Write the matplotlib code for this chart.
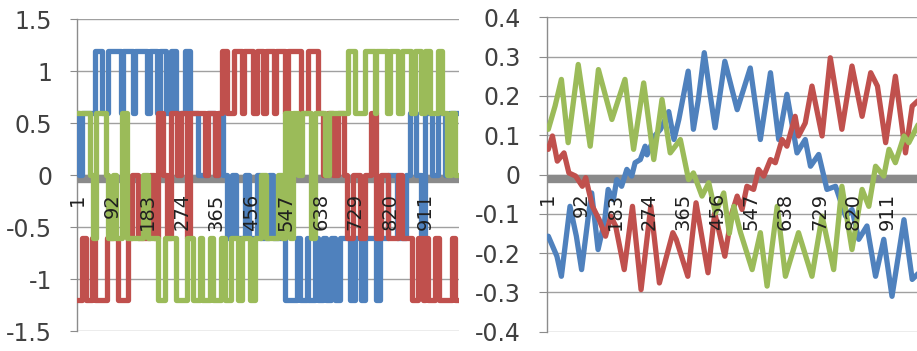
import numpy as np
import matplotlib.pyplot as plt
from matplotlib.transforms import ScaledTranslation

# colours of the three phases (excel defaults)
BLUE = '#4F81BD'
RED = '#C0504D'
GREEN = '#9BBB59'

# x axis category labels (every 91 samples)
x_ticks = [1, 92, 183, 274, 365, 456, 547, 638, 729, 820, 911]
n_samples = 1000

# left chart: phase voltages, switch sample -> level
blue_sw = [1, 4, 14, 48, 66, 81, 116, 121, 147, 151, 182, 190, 208, 217, 234, 247, 260, 282, 295, 318,
           340, 362, 372, 382, 392, 405, 415, 440, 450, 470, 480, 503, 514, 544, 575, 583, 601, 605, 623, 631,
           645, 653, 666, 675, 688, 714, 727, 745, 754, 784, 793, 815, 838, 862, 872, 888, 902, 912, 930, 945,
           965, 975]
blue_lv = [0.6, 0, 0.6, 1.2, 0.6, 1.2, 0.6, 1.2, 0.6, 1.2, 0.6, 1.2, 0.6, 1.2, 0.6, 1.2, 0.6, 1.2, 0.6, 0,
           0.6, 0, 0.6, 0, -0.6, 0, -0.6, 0, -0.6, 0, -0.6, 0, -0.6, -1.2, -0.6, -1.2, -0.6, -1.2, -0.6, -1.2,
           -0.6, -1.2, -0.6, -1.2, -0.6, -1.2, -0.6, -1.2, -0.6, -1.2, -0.6, 0, -0.6, 0, 0.6, 0, -0.6, 0.6, 0, 0.6,
           0, 0.6]

red_sw = [1, 12, 22, 38, 46, 77, 107, 134, 145, 160, 192, 202, 212, 225, 235, 245, 262, 272, 288, 296,
          335, 343, 362, 370, 379, 394, 412, 432, 437, 462, 470, 488, 494, 516, 522, 544, 553, 586, 604, 631,
          645, 658, 671, 684, 700, 708, 722, 740, 754, 771, 782, 797, 814, 840, 850, 877, 893, 905, 912, 920,
          938, 948, 982, 990]
red_lv = [-1.2, -0.6, -1.2, -0.6, -1.2, -0.6, -1.2, -0.6, 0, -0.6, 0, -0.6, 0.6, 0, -0.6, 0.6, 0, 0.6, -0.6, 0.6,
          0, 0.6, 0, 0.6, 1.2, 0.6, 1.2, 0.6, 1.2, 0.6, 1.2, 0.6, 1.2, 0.6, 1.2, 0.6, 1.2, 0.6, 1.2, 0.6,
          0, 0.6, 0, 0.6, 0, -0.6, 0, -0.6, 0, 0.6, -0.6, 0, -0.6, 0, -0.6, -1.2, -0.6, -1.2, -0.6, -1.2,
          -0.6, -1.2, -0.6, -1.2]

green_sw = [1, 35, 42, 50, 75, 82, 95, 102, 117, 130, 172, 185, 212, 230, 260, 287, 304, 321, 326, 348,
            356, 378, 387, 404, 422, 431, 452, 465, 482, 495, 526, 536, 544, 557, 566, 579, 590, 614, 624, 650,
            660, 709, 728, 754, 780, 784, 811, 819, 841, 850, 876, 885, 902, 911, 924, 946, 955, 968, 980, 990]
green_lv = [0.6, 0, -0.6, 0.6, 0, -0.6, 0, -0.6, 0.6, -0.6, 0, -0.6, -1.2, -0.6, -1.2, -0.6, -1.2, -0.6, -1.2, -0.6,
            -1.2, -0.6, -1.2, -0.6, -1.2, -0.6, -1.2, -0.6, 0, -0.6, 0, -0.6, 0.6, -0.6, 0.6, 0, 0.6, -0.6, 0.6, 0,
            0.6, 1.2, 0.6, 1.2, 0.6, 1.2, 0.6, 1.2, 0.6, 1.2, 0.6, 1.2, 0.6, 1.2, 0.6, 1.2, 0.6, 0, 0.6, 0]

left_yticks = [-1.5, -1, -0.5, 0, 0.5, 1, 1.5]
left_ylabels = ['-1.5', '-1', '-0.5', '0', '0.5', '1', '1.5']

# right chart: phase currents (sample, value)
blue_ix = [4, 27, 39, 62, 79, 93, 111, 120, 137, 155, 164, 178, 187, 200, 214, 227, 236, 250, 263, 268,
           290, 304, 326, 340, 353, 378, 392, 405, 421, 436, 450, 476, 509, 544, 571, 598, 620, 642, 669, 691,
           705, 727, 749, 772, 799, 816, 834, 856, 879, 901, 923, 955, 977, 995]
blue_i = [-0.157, -0.208, -0.259, -0.081, -0.157, -0.242, -0.106, -0.047, -0.191, -0.115,
          -0.038, -0.064, -0.013, -0.03, 0.013, -0.004, 0.03, 0.038, 0.072, 0.05,
          0.10, 0.115, 0.16, 0.089, 0.14, 0.263, 0.115, 0.19, 0.31, 0.208,
          0.119, 0.288, 0.165, 0.271, 0.089, 0.259, 0.089, 0.204, 0.055, 0.089,
          0.021, 0.051, -0.038, -0.03, -0.106, -0.089, -0.165, -0.131, -0.259, -0.165,
          -0.31, -0.115, -0.267, -0.25]

red_ix = [4, 15, 28, 46, 59, 77, 95, 104, 122, 140, 157, 171, 184, 207, 229, 252, 278, 301, 337, 346,
          377, 399, 431, 449, 476, 495, 509, 522, 535, 553, 566, 580, 598, 611, 629, 642, 664, 673, 691, 709,
          736, 758, 789, 816, 843, 866, 884, 906, 932, 959, 977, 995]
red_i = [0.064, 0.098, 0.034, 0.055, 0.004, -0.004, -0.03, -0.008, -0.081, -0.115,
         -0.157, -0.106, -0.131, -0.242, -0.081, -0.293, -0.081, -0.276, -0.148, -0.165,
         -0.259, -0.072, -0.25, -0.098, -0.208, -0.098, -0.055, -0.089, -0.03, -0.038,
         0.013, -0.004, 0.038, 0.03, 0.089, 0.072, 0.148, 0.098, 0.131, 0.225,
         0.098, 0.297, 0.115, 0.276, 0.148, 0.259, 0.225, 0.081, 0.25, 0.055,
         0.174, 0.19]

green_ix = [4, 22, 39, 57, 84, 116, 138, 174, 209, 232, 259, 286, 308, 330, 357, 379, 392, 415, 433, 451,
            473, 488, 500, 518, 549, 571, 589, 616, 638, 673, 709, 736, 767, 789, 816, 843, 861, 879, 901, 915,
            932, 955, 968, 995]
green_i = [0.115, 0.174, 0.242, 0.081, 0.28, 0.072, 0.267, 0.14, 0.242, 0.064,
           0.233, 0.038, 0.191, 0.055, 0.089, -0.013, 0.004, -0.055, -0.021, -0.098,
           -0.047, -0.15, -0.081, -0.148, -0.242, -0.148, -0.284, -0.081, -0.259, -0.148,
           -0.259, -0.106, -0.242, -0.03, -0.191, -0.038, -0.081, 0.021, -0.004, 0.064,
           0.03, 0.098, 0.081, 0.131]

right_yticks = [-0.4, -0.3, -0.2, -0.1, 0, 0.1, 0.2, 0.3, 0.4]
right_ylabels = ['-0.4', '-0.3', '-0.2', '-0.1', '0', '0.1', '0.2', '0.3', '0.4']


def excel_axes(ax, yticks, ylabels, fig, ylen):
    for s in ['top', 'right', 'bottom']:
        ax.spines[s].set_visible(False)
    ax.spines['left'].set_color('#8c8c8c')
    ax.spines['left'].set_linewidth(1)

    ax.set_xlim(0.5, n_samples + 0.5)
    ax.set_ylim(yticks[0], yticks[-1])
    ax.set_yticks(yticks)
    ax.set_yticklabels(ylabels, fontsize=17, color='#404040')
    ax.set_xticks([])
    ax.grid(axis='y', color='#a0a0a0', lw=1)
    ax.set_axisbelow(True)
    ax.tick_params(axis='y', length=ylen, color='#8c8c8c', pad=13)

    # thick grey horizontal axis at zero
    off = ScaledTranslation(0, -3 / 72, fig.dpi_scale_trans)
    ax.plot([0, 1], [0, 0], color='#8a8a8a', lw=6, zorder=1.5, solid_capstyle='butt',
            transform=ax.get_yaxis_transform() + off)

    # category labels hang under the zero line, on top of the series
    lab_off = ScaledTranslation(0, -13 / 72, fig.dpi_scale_trans)
    for t in x_ticks:
        ax.text(t, 0, str(t), rotation=90, fontsize=14, color='#202020',
                ha='center', va='top', zorder=5, transform=ax.transData + lab_off)


def draw_steps(ax, sw, lv, color):
    x = sw + [n_samples]
    y = lv + [lv[-1]]
    ax.step(x, y, where='post', color=color, lw=3.8, zorder=3,
            solid_joinstyle='round', solid_capstyle='round')


fig = plt.figure(figsize=(9.17, 3.51), dpi=100)

ax1 = fig.add_axes([77.3 / 917, 1 - 331.3 / 351, 381.7 / 917, 312 / 351])
excel_axes(ax1, left_yticks, left_ylabels, fig, 5)
draw_steps(ax1, blue_sw, blue_lv, BLUE)
draw_steps(ax1, red_sw, red_lv, RED)
draw_steps(ax1, green_sw, green_lv, GREEN)

ax2 = fig.add_axes([547 / 917, 1 - 331.7 / 351, 374 / 917, 314.4 / 351])
excel_axes(ax2, right_yticks, right_ylabels, fig, 6)
for xs, ys, c in [(blue_ix, blue_i, BLUE), (red_ix, red_i, RED), (green_ix, green_i, GREEN)]:
    ax2.plot(xs, ys, color=c, lw=3.8, zorder=3, solid_joinstyle='round', solid_capstyle='round')

fig.savefig('out.png', dpi=100)
